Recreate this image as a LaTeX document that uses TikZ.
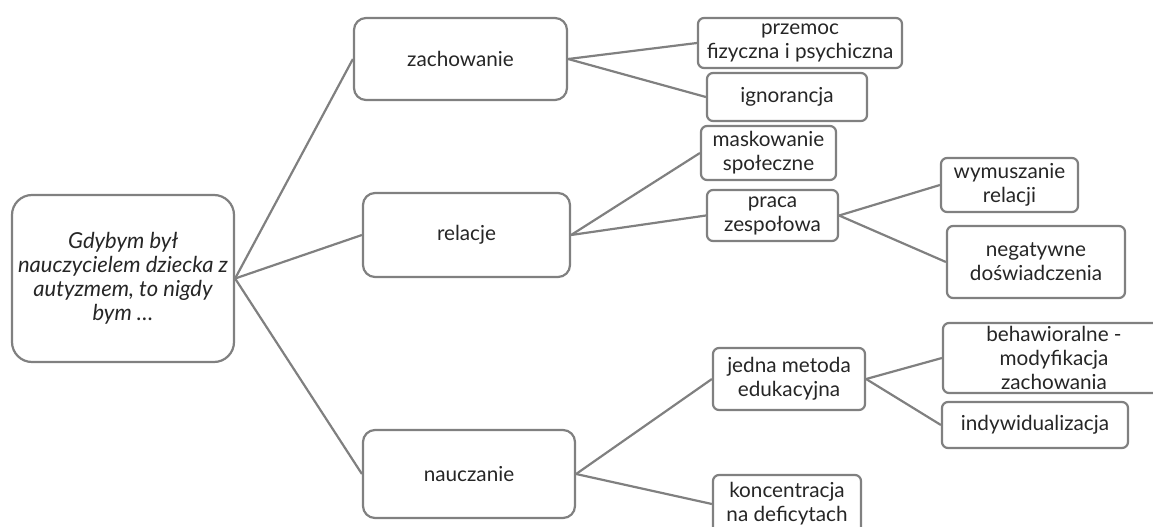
\documentclass[tikz,border=0pt]{standalone}
\usepackage{fontspec}
\setmainfont{Lato}
\usepackage{tikz}
\usetikzlibrary{positioning}
\definecolor{linegray}{RGB}{128,128,128}
\definecolor{txtgray}{RGB}{38,38,38}
\tikzset{
box/.style = {draw=linegray, line width=2.2pt, rounded corners=#1,
              fill=white, align=center, inner sep=0pt, text=txtgray,
              font=\fontsize{20.7}{24}\selectfont},
box/.default = 6pt, % corner radius of the small boxes
link/.style = {draw=linegray, line width=2.2pt}
}
\newcommand{\branch}[2]{\draw[link] (#1.east) -- (#2.west);}

\begin{document}
\begin{tikzpicture}[x=1pt,y=-1pt]
        \useasboundingbox (0,0) rectangle (1153,527);
        \clip (0,0) rectangle (1153,527);
        % root
        \node[box=20pt, minimum width=222pt, minimum height=167pt,
              font=\fontsize{22}{24}\selectfont\itshape] (root) at (123,278.5)
              {Gdybym był\\nauczycielem dziecka z\\autyzmem, to nigdy\\bym \dots};
        % first level
        \node[box=12pt, minimum width=213pt, minimum height=82pt] (zach) at (460.5,59) {zachowanie};
        \node[box=12pt, minimum width=207pt, minimum height=84pt] (rel) at (466.5,235) {relacje};
        \node[box=12pt, minimum width=212pt, minimum height=88pt] (nauc) at (469,474) {nauczanie};
        % second level
        \node[box, minimum width=204pt, minimum height=50pt] (przem) at (800,43) {przemoc\\fizyczna i psychiczna};
        \node[box, minimum width=160pt, minimum height=48pt] (ignor) at (787,97) {ignorancja};
        \node[box, minimum width=135pt, minimum height=54pt] (mask) at (768.5,153) {maskowanie\\społeczne};
        \node[box, minimum width=131pt, minimum height=51pt] (praca) at (772.5,215.5) {praca\\zespołowa};
        \node[box, minimum width=152pt, minimum height=62pt] (jedna) at (789,379) {jedna metoda\\edukacyjna};
        \node[box, minimum width=148pt, minimum height=58pt] (konc) at (787,504) {koncentracja\\na deficytach};
        % third level
        \node[box, minimum width=137pt, minimum height=54pt] (wym) at (1009.5,185) {wymuszanie\\relacji};
        \node[box, minimum width=178pt, minimum height=72pt] (neg) at (1036,262) {negatywne\\doświadczenia};
        \node[box, minimum width=222pt, minimum height=70pt] (behaw) at (1054,358) {behawioralne -\\modyfikacja\\zachowania};
        \node[box, minimum width=186pt, minimum height=46pt] (indyw) at (1035,425) {indywidualizacja};
        % connectors
        \branch{root}{zach};
        \branch{root}{rel};
        \branch{root}{nauc};
        \branch{zach}{przem};
        \branch{zach}{ignor};
        \branch{rel}{mask};
        \branch{rel}{praca};
        \branch{praca}{wym};
        \branch{praca}{neg};
        \branch{nauc}{jedna};
        \branch{nauc}{konc};
        \branch{jedna}{behaw};
        \branch{jedna}{indyw};
\end{tikzpicture}
\end{document}
